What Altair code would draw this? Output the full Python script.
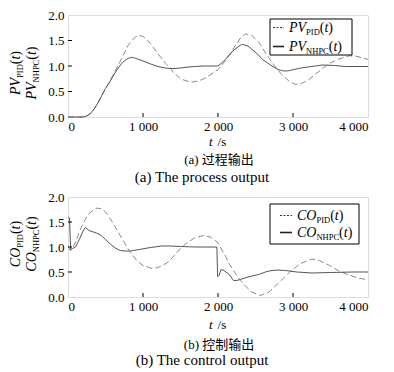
import altair as alt
import pandas as pd

# ---------------- data ----------------
pv_pid_t = [0, 150, 200, 250, 300, 350, 400, 450, 500, 550, 600, 650, 700, 750, 800, 850, 900, 940,
            1000, 1050, 1100, 1200, 1300, 1364, 1400, 1500, 1630, 1750, 1850, 1950, 2000, 2100, 2200,
            2300, 2370, 2450, 2550, 2650, 2750, 2800, 2850, 2950, 3030, 3100, 3200, 3300, 3400, 3500,
            3600, 3750, 3850, 3950, 4000]
pv_pid_v = [0.0, 0.0, 0.0, 0.02, 0.07, 0.16, 0.28, 0.42, 0.56, 0.68, 0.82, 0.96, 1.1, 1.25, 1.4, 1.5, 1.57, 1.6,
            1.58, 1.52, 1.44, 1.24, 1.05, 0.96, 0.88, 0.75, 0.68, 0.71, 0.78, 0.88, 0.93, 1.1, 1.33,
            1.55, 1.63, 1.6, 1.45, 1.22, 1.01, 0.92, 0.83, 0.7, 0.64, 0.65, 0.72, 0.84, 0.96, 1.06,
            1.13, 1.2, 1.19, 1.15, 1.13]

pv_nhpc_t = [0, 150, 200, 250, 300, 350, 400, 450, 500, 550, 600, 650, 700, 750, 800, 850, 900, 1000,
             1100, 1200, 1300, 1400, 1500, 1600, 1700, 1800, 2000, 2050, 2100, 2200, 2300, 2340, 2400,
             2500, 2600, 2700, 2800, 2850, 2900, 2950, 3100, 3250, 3400, 3550, 3700, 4000]
pv_nhpc_v = [0.0, 0.0, 0.0, 0.02, 0.07, 0.16, 0.28, 0.42, 0.56, 0.67, 0.8, 0.92, 1.02, 1.1, 1.15, 1.17, 1.15, 1.1,
             1.04, 0.99, 0.96, 0.95, 0.96, 0.98, 0.99, 1.0, 1.0, 1.06, 1.13, 1.3, 1.41, 1.42, 1.39,
             1.27, 1.12, 1.02, 0.93, 0.91, 0.9, 0.91, 0.96, 0.99, 1.02, 1.01, 0.99, 0.99]

co_pid_t = [0, 30, 60, 100, 150, 200, 250, 300, 387, 450, 520, 610, 700, 787, 850, 920, 1000, 1120,
            1200, 1320, 1400, 1500, 1600, 1700, 1809, 1900, 1990, 2100, 2142, 2250, 2364, 2450, 2564,
            2680, 2809, 2964, 3100, 3253, 3350, 3476, 3600, 3742, 3870, 4000]
co_pid_v = [1.0, 0.93, 0.97, 1.1, 1.3, 1.47, 1.6, 1.7, 1.78, 1.76, 1.67, 1.45, 1.22, 1.0, 0.86, 0.72, 0.63, 0.57,
            0.59, 0.68, 0.8, 0.97, 1.1, 1.19, 1.23, 1.2, 1.1, 0.82, 0.68, 0.43, 0.22, 0.1, 0.03,
            0.1, 0.28, 0.51, 0.67, 0.76, 0.73, 0.64, 0.53, 0.44, 0.38, 0.34]

co_nhpc_t = [0, 20, 35, 60, 100, 150, 200, 231, 280, 378, 444, 500, 564, 630, 698, 760, 831, 950, 1100,
             1250, 1364, 1500, 1700, 1985, 1995, 2015, 2040, 2080, 2150, 2209, 2250, 2298, 2400, 2542,
             2650, 2720, 2800, 2898, 3050, 3253, 3500, 3800, 4000]
co_nhpc_v = [1.6, 1.58, 0.95, 0.97, 1.0, 1.15, 1.32, 1.39, 1.33, 1.28, 1.23, 1.15, 1.06, 0.98, 0.93, 0.92, 0.92, 0.95, 0.99,
             1.02, 1.02, 1.01, 1.0, 1.0, 0.41, 0.43, 0.55, 0.53, 0.45, 0.33, 0.33, 0.35, 0.4, 0.45,
             0.51, 0.53, 0.54, 0.53, 0.5, 0.48, 0.49, 0.5, 0.5]

x_ticks = [0, 1000, 2000, 3000, 4000]
x_inner_ticks = [1000, 2000, 3000]
y_ticks = [0.0, 0.5, 1.0, 1.5, 2.0]
y_inner_ticks = [0.5, 1.0, 1.5]

top_names = ("PV", "PID", "NHPC")
bot_names = ("CO", "PID", "NHPC")
x_title = ("t", "/s")
top_captions = ["(a) 过程输出", "(a) The process output"]
bot_captions = ["(b) 控制输出", "(b) The control output"]

# ---------------- styling helpers ----------------
SERIF = "Liberation Serif, Times New Roman, serif"
CJK = "Liberation Serif, Noto Sans CJK SC"
W = 300
DASH_COL = "#8a8a8a"
SOLID_COL = "#555555"

ROMAN = {"(": 0.333, ")": 0.333, "P": 0.556, "I": 0.333, "D": 0.722, "N": 0.722, "H": 0.722,
         "C": 0.667, " ": 0.25, "/": 0.278, "s": 0.389}
ITALIC = {"P": 0.611, "V": 0.611, "C": 0.667, "O": 0.722, "t": 0.278}

one = pd.DataFrame({"k": [0]})


def width_of(text, size, italic):
    tab = ITALIC if italic else ROMAN
    return sum(tab.get(c, 0.5) for c in text) * size


def rich(pieces, x0, y0, vertical=False):
    layers = []
    cum = 0.0
    for piece in pieces:
        text, size, italic, shift = piece[:4]
        gap = piece[4] if len(piece) > 4 else 0
        cum += gap
        if vertical:
            x, y, ang = x0 + shift, y0 - cum, 270
        else:
            x, y, ang = x0 + cum, y0 + shift, 0
        layers.append(
            alt.Chart(one).mark_text(text=text, font=SERIF, fontSize=size,
                                     fontStyle="italic" if italic else "normal",
                                     align="left", baseline="alphabetic", angle=ang,
                                     color="black")
            .encode(x=alt.value(x), y=alt.value(y))
        )
        cum += width_of(text, size, italic)
    return layers, cum


def label_pieces(main, sub, size=14, subsize=8.5):
    return [(main, size, True, 0), (sub, subsize, False, 3), ("(", size, False, 0),
            ("t", size, True, 0), (")", size, False, 0)]


def panel(pid_t, pid_v, nh_t, nh_v, names, captions, H, leg, ytitle_cy, xt_off, cap_off):
    xs = alt.Scale(domain=[0, 4000], nice=False)
    ys = alt.Scale(domain=[0, 2], nice=False)
    xaxis = alt.Axis(values=x_ticks, tickSize=0, domain=False, grid=False, title=None,
                     labelFont=SERIF, labelFontSize=13, labelColor="black", labelPadding=3,
                     labelOverlap=False, labelBound=False,
                     labelExpr="replace(format(datum.value, ','), ',', ' ')")
    yaxis = alt.Axis(values=y_ticks, tickSize=0, domain=False, grid=False, title=None,
                     labelFont=SERIF, labelFontSize=13, labelColor="black", labelPadding=4,
                     format=".1f")
    d_pid = pd.DataFrame({"t": pid_t, "v": pid_v})
    d_nh = pd.DataFrame({"t": nh_t, "v": nh_v})
    l_pid = alt.Chart(d_pid).mark_line(color=DASH_COL, strokeWidth=1, strokeDash=[6, 3]).encode(
        x=alt.X("t:Q", scale=xs, axis=xaxis), y=alt.Y("v:Q", scale=ys, axis=yaxis))
    l_nh = alt.Chart(d_nh).mark_line(color=SOLID_COL, strokeWidth=1).encode(
        x=alt.X("t:Q", scale=xs, axis=xaxis), y=alt.Y("v:Q", scale=ys, axis=yaxis))
    xt = alt.Chart(pd.DataFrame({"t": x_inner_ticks})).mark_rule(color="black", strokeWidth=1).encode(
        x=alt.X("t:Q", scale=xs, axis=xaxis), y=alt.value(H), y2=alt.value(H - 4))
    yt = alt.Chart(pd.DataFrame({"v": y_inner_ticks})).mark_rule(color="black", strokeWidth=1).encode(
        y=alt.Y("v:Q", scale=ys, axis=yaxis), x=alt.value(0), x2=alt.value(4))

    lx0, lx1, ly0, ly1, sx0, sx1, tx, b1, b2 = leg
    box = alt.Chart(one).mark_rect(fill="white", stroke="black", strokeWidth=1).encode(
        x=alt.value(lx0), x2=alt.value(lx1), y=alt.value(ly0), y2=alt.value(ly1))
    s1 = alt.Chart(one).mark_rule(color="#333333", strokeWidth=1, strokeDash=[2, 1.5]).encode(
        x=alt.value(sx0), x2=alt.value(sx1), y=alt.value(b1 - 4.5))
    s2 = alt.Chart(one).mark_rule(color="#222222", strokeWidth=1.6).encode(
        x=alt.value(sx0), x2=alt.value(sx1), y=alt.value(b2 - 4.5))
    main, sub1, sub2 = names
    t1, _ = rich(label_pieces(main, sub1), tx, b1)
    t2, _ = rich(label_pieces(main, sub2), tx, b2)

    # rotated y titles
    p1 = label_pieces(main, sub1)
    p2 = label_pieces(main, sub2)
    _, len1 = rich(p1, 0, 0)
    _, len2 = rich(p2, 0, 0)
    y1, _ = rich(p1, -48, ytitle_cy + len1 / 2, vertical=True)
    y2, _ = rich(p2, -32, ytitle_cy + len2 / 2, vertical=True)

    xtl, _ = rich([(x_title[0], 13, True, 0), (x_title[1], 13, False, 0, 5)], 141, H + xt_off)

    c1 = alt.Chart(one).mark_text(text=captions[0], font=CJK, fontSize=13, align="center",
                                  baseline="alphabetic", color="black").encode(
        x=alt.value(151), y=alt.value(H + cap_off[0]))
    c2 = alt.Chart(one).mark_text(text=captions[1], font=SERIF, fontSize=15, align="center",
                                  baseline="alphabetic", color="black").encode(
        x=alt.value(134), y=alt.value(H + cap_off[1]))

    return alt.layer(l_pid, l_nh, xt, yt, box, s1, s2, *t1, *t2, *y1, *y2, *xtl, c1, c2).properties(
        width=W, height=H)


top = panel(pv_pid_t, pv_pid_v, pv_nhpc_t, pv_nhpc_v, top_names, top_captions, 102,
            (202, 284, 4, 40, 205, 216, 221, 17, 36), 58, 29, (47, 65))
bottom = panel(co_pid_t, co_pid_v, co_nhpc_t, co_nhpc_v, bot_names, bot_captions, 100,
               (202, 291, 7, 47, 212, 224, 229, 23, 40), 47, 32, (52, 68))

chart = alt.vconcat(top, bottom, spacing=80, bounds="flush").properties(
    padding={"left": 0, "top": 0, "right": 0, "bottom": 0}
).configure_view(stroke="black", strokeWidth=1).configure_axis(
    labelFont=SERIF, labelFontSize=13, labelColor="black"
).configure(background="white")

chart.save("out.html", embed_options={"renderer": "svg", "actions": False})
